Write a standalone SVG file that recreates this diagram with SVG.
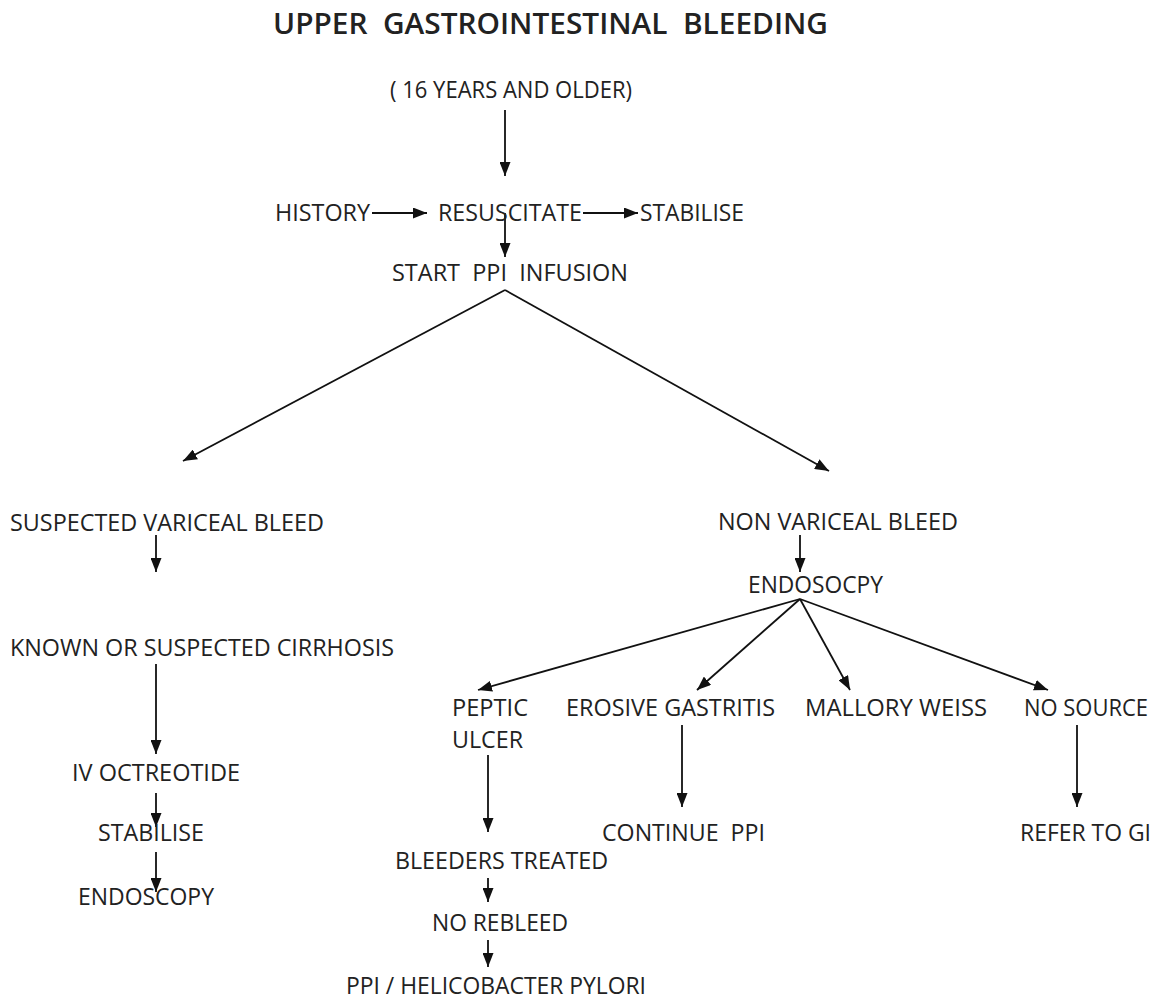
<svg xmlns="http://www.w3.org/2000/svg" width="1156" height="1002" viewBox="0 0 1156 1002">
  <defs>
    <marker id="arrow" viewBox="0 0 14 11" refX="14" refY="5.5" markerWidth="14" markerHeight="11" markerUnits="userSpaceOnUse" orient="auto">
      <path d="M0,0 L14,5.5 L0,11 Z" fill="#111"/>
    </marker>
  </defs>
  <style>
    .lbl { font-family: "Open Sans", "Noto Sans", "Liberation Sans", sans-serif; font-size: 24px; fill: #222; }
    .title { font-family: "Open Sans", "Noto Sans", "Liberation Sans", sans-serif; font-size: 28px; font-weight: 600; fill: #222; }
    .edge { stroke: #111; stroke-width: 1.8; fill: none; marker-end: url(#arrow); }
  </style>
  <rect width="1156" height="1002" fill="#fff"/>

  <text class="title" x="273" y="34" textLength="555" lengthAdjust="spacingAndGlyphs" xml:space="preserve">UPPER  GASTROINTESTINAL  BLEEDING</text>

  <g id="edges">
    <path class="edge" d="M505,110 L505,176"/>
    <path class="edge" d="M372,213 L427,213"/>
    <path class="edge" d="M583,213 L638,213"/>
    <path class="edge" d="M505,213 L505,257"/>
    <path class="edge" d="M505,290 L183,461"/>
    <path class="edge" d="M505,290 L829,471"/>
    <path class="edge" d="M156,535 L156,572"/>
    <path class="edge" d="M156,664 L156,754"/>
    <path class="edge" d="M156,793 L156,827"/>
    <path class="edge" d="M156,852 L156,892"/>
    <path class="edge" d="M800,535 L800,572"/>
    <path class="edge" d="M800,599 L478,690"/>
    <path class="edge" d="M800,599 L697,690"/>
    <path class="edge" d="M800,599 L850,690"/>
    <path class="edge" d="M800,599 L1048,690"/>
    <path class="edge" d="M488,755 L488,832"/>
    <path class="edge" d="M682,725 L682,807"/>
    <path class="edge" d="M1077,725 L1077,807"/>
    <path class="edge" d="M488,878 L488,902"/>
    <path class="edge" d="M488,940 L488,967"/>
  </g>

  <g id="age"><text class="lbl" x="390" y="98" textLength="242" lengthAdjust="spacingAndGlyphs">( 16 YEARS AND OLDER)</text></g>
  <g id="history"><text class="lbl" x="275" y="221" textLength="95" lengthAdjust="spacingAndGlyphs">HISTORY</text></g>
  <g id="resuscitate"><text class="lbl" x="438" y="221" textLength="144" lengthAdjust="spacingAndGlyphs">RESUSCITATE</text></g>
  <g id="stabilise-top"><text class="lbl" x="640" y="221" textLength="104" lengthAdjust="spacingAndGlyphs">STABILISE</text></g>
  <g id="ppi-infusion"><text class="lbl" x="392" y="281" textLength="236" lengthAdjust="spacingAndGlyphs" xml:space="preserve">START  PPI  INFUSION</text></g>

  <g id="variceal"><text class="lbl" x="10" y="531" textLength="314" lengthAdjust="spacingAndGlyphs">SUSPECTED VARICEAL BLEED</text></g>
  <g id="cirrhosis"><text class="lbl" x="10" y="656" textLength="384" lengthAdjust="spacingAndGlyphs">KNOWN OR SUSPECTED CIRRHOSIS</text></g>
  <g id="octreotide"><text class="lbl" x="72" y="781" textLength="168" lengthAdjust="spacingAndGlyphs">IV OCTREOTIDE</text></g>
  <g id="stabilise-left"><text class="lbl" x="98" y="841" textLength="106" lengthAdjust="spacingAndGlyphs">STABILISE</text></g>
  <g id="endoscopy-left"><text class="lbl" x="78" y="905" textLength="136" lengthAdjust="spacingAndGlyphs">ENDOSCOPY</text></g>

  <g id="non-variceal"><text class="lbl" x="718" y="530" textLength="240" lengthAdjust="spacingAndGlyphs">NON VARICEAL BLEED</text></g>
  <g id="endoscopy-right"><text class="lbl" x="748" y="593" textLength="135" lengthAdjust="spacingAndGlyphs">ENDOSOCPY</text></g>

  <g id="peptic-ulcer">
    <text class="lbl" x="452" y="716" textLength="76" lengthAdjust="spacingAndGlyphs">PEPTIC</text>
    <text class="lbl" x="452" y="748" textLength="71" lengthAdjust="spacingAndGlyphs">ULCER</text>
  </g>
  <g id="erosive"><text class="lbl" x="566" y="716" textLength="209" lengthAdjust="spacingAndGlyphs">EROSIVE GASTRITIS</text></g>
  <g id="mallory"><text class="lbl" x="805" y="716" textLength="182" lengthAdjust="spacingAndGlyphs">MALLORY WEISS</text></g>
  <g id="no-source"><text class="lbl" x="1024" y="716" textLength="124" lengthAdjust="spacingAndGlyphs">NO SOURCE</text></g>

  <g id="continue-ppi"><text class="lbl" x="602" y="841" textLength="163" lengthAdjust="spacingAndGlyphs" xml:space="preserve">CONTINUE  PPI</text></g>
  <g id="refer-gi"><text class="lbl" x="1020" y="841" textLength="131" lengthAdjust="spacingAndGlyphs">REFER TO GI</text></g>
  <g id="bleeders"><text class="lbl" x="395" y="869" textLength="213" lengthAdjust="spacingAndGlyphs">BLEEDERS TREATED</text></g>
  <g id="no-rebleed"><text class="lbl" x="432" y="931" textLength="136" lengthAdjust="spacingAndGlyphs">NO REBLEED</text></g>
  <g id="hpylori"><text class="lbl" x="346" y="994" textLength="300" lengthAdjust="spacingAndGlyphs">PPI / HELICOBACTER PYLORI</text></g>
</svg>
